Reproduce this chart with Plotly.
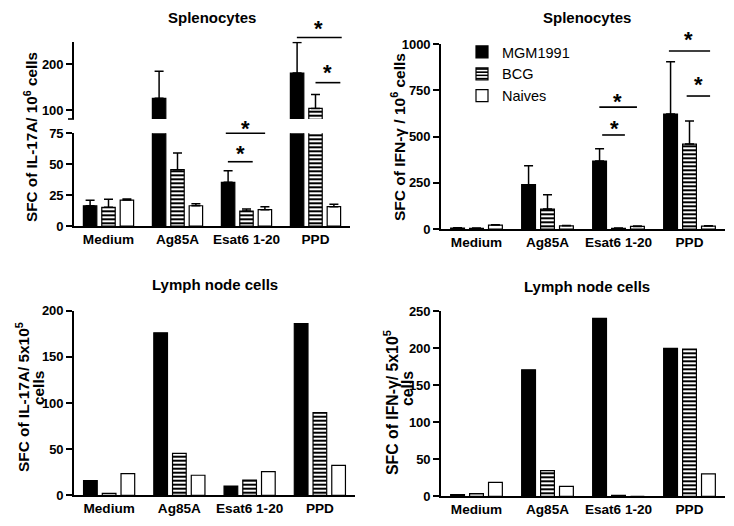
import plotly.graph_objects as go

OFF = 8                     # page body margin: figure starts 8 px from the window edge
W, H = 734 - 2 * OFF, 526 - 2 * OFF
FONT = "Arial, 'Liberation Sans', sans-serif"

categories = ["Medium", "Ag85A", "Esat6 1-20", "PPD"]
groups = ["MGM1991", "BCG", "Naives"]

# Splenocytes, IL-17A (SFC / 10^6 cells): mean and upper SD
spl_il17_mgm = [16.4, 126, 35.3, 181]
spl_il17_mgm_sd = [4.4, 59, 9.5, 66]
spl_il17_bcg = [15.1, 45.6, 12.1, 104]
spl_il17_bcg_sd = [6.5, 13.4, 1.6, 30]
spl_il17_naive = [21.0, 16.4, 13.2, 15.6]
spl_il17_naive_sd = [0.8, 1.6, 2.4, 1.9]

# Splenocytes, IFN-gamma (SFC / 10^6 cells)
spl_ifn_mgm = [5, 240, 368, 622]
spl_ifn_mgm_sd = [2, 102, 67, 283]
spl_ifn_bcg = [4, 108, 4, 460]
spl_ifn_bcg_sd = [1, 78, 1, 125]
spl_ifn_naive = [21, 17, 14, 16]
spl_ifn_naive_sd = [2, 2, 2, 2]

# Lymph node cells, IL-17A (SFC / 5x10^5 cells)
ln_il17_mgm = [16, 176, 10, 186]
ln_il17_bcg = [2, 45.5, 16.6, 89.5]
ln_il17_naive = [23.5, 21.7, 25.6, 32.5]

# Lymph node cells, IFN-gamma (SFC / 5x10^5 cells)
ln_ifn_mgm = [2.3, 171, 240.5, 200]
ln_ifn_bcg = [3.6, 34.7, 1.4, 199]
ln_ifn_naive = [18.9, 13.5, 0, 30.2]


def px_x(p):
    return (p - OFF) / W


def px_y(p):
    return 1 - (p - OFF) / H


def ydom(top_px, bottom_px):
    return [px_y(bottom_px), px_y(top_px)]


def bar_style(g):
    if g == "MGM1991":
        return dict(color="black", line=dict(color="black", width=1.2))
    if g == "BCG":
        return dict(color="white", line=dict(color="black", width=1.2),
                    pattern=dict(shape="-", fgcolor="black", bgcolor="white",
                                 size=4, solidity=0.5, fillmode="replace"))
    return dict(color="white", line=dict(color="black", width=1.2))


fig = go.Figure()


def add_panel(xa, ya, series, errs=None, showlegend=False):
    for i, g in enumerate(groups):
        kw = {}
        if errs is not None:
            kw["error_y"] = dict(type="data", symmetric=False, array=errs[i],
                                 arrayminus=[0] * len(errs[i]), color="black",
                                 thickness=1.5, width=4.5)
        fig.add_trace(go.Bar(x=categories, y=series[i], name=g, xaxis=xa, yaxis=ya,
                             marker=bar_style(g), showlegend=showlegend,
                             legendgroup=g, **kw))


il17_series = [spl_il17_mgm, spl_il17_bcg, spl_il17_naive]
il17_errs = [spl_il17_mgm_sd, spl_il17_bcg_sd, spl_il17_naive_sd]
add_panel("x", "y", il17_series, il17_errs)      # lower segment of broken axis
add_panel("x2", "y2", il17_series, il17_errs)    # upper segment
add_panel("x3", "y3", [spl_ifn_mgm, spl_ifn_bcg, spl_ifn_naive],
          [spl_ifn_mgm_sd, spl_ifn_bcg_sd, spl_ifn_naive_sd], showlegend=True)
add_panel("x4", "y4", [ln_il17_mgm, ln_il17_bcg, ln_il17_naive])
add_panel("x5", "y5", [ln_ifn_mgm, ln_ifn_bcg, ln_ifn_naive])

ytickfont = dict(family=FONT, size=13, color="black", weight="bold")
xtickfont = dict(family=FONT, size=13.6, color="black", weight="bold")
axbase = dict(showline=True, linecolor="black", linewidth=1.6, showgrid=False,
              zeroline=False, automargin=False)
xbase = dict(axbase, ticks="", range=[-0.5, 3.5], type="category", tickfont=xtickfont)
ybase = dict(axbase, ticks="outside", ticklen=6, tickwidth=1.6, tickcolor="black",
             tickfont=ytickfont)

TL_LOW = [0, 75]
TL_UP = [81, 249]
TR_R = [0, 1000]

DOM = {
    "x": [px_x(74), px_x(350)], "y": ydom(133.3, 226),
    "x2": [px_x(74), px_x(350)], "y2": ydom(41.7, 119),
    "x3": [px_x(441), px_x(725)], "y3": ydom(44.3, 229),
}

fig.update_layout(
    template="none",
    width=W, height=H, margin=dict(l=0, r=0, t=0, b=0, pad=0),
    paper_bgcolor="white", plot_bgcolor="white",
    font=dict(family=FONT, color="black"),
    barmode="group", bargap=0.2, bargroupgap=0.27,
    xaxis=dict(xbase, domain=DOM["x"], anchor="y"),
    yaxis=dict(ybase, domain=DOM["y"], anchor="x", range=TL_LOW, tickvals=[0, 25, 50, 75]),
    xaxis2=dict(xbase, domain=DOM["x2"], anchor="y2", matches="x", visible=False),
    yaxis2=dict(ybase, domain=DOM["y2"], anchor="x2", range=TL_UP, tickvals=[100, 200]),
    xaxis3=dict(xbase, domain=DOM["x3"], anchor="y3"),
    yaxis3=dict(ybase, domain=DOM["y3"], anchor="x3", range=TR_R, dtick=250),
    xaxis4=dict(xbase, domain=[px_x(74), px_x(355)], anchor="y4"),
    yaxis4=dict(ybase, domain=ydom(310.7, 495.3), anchor="x4", range=[0, 200], dtick=50),
    xaxis5=dict(xbase, domain=[px_x(441), px_x(725)], anchor="y5"),
    yaxis5=dict(ybase, domain=ydom(311.3, 496.3), anchor="x5", range=[0, 250], dtick=50),
    legend=dict(x=px_x(462), y=px_y(36), xanchor="left", yanchor="top",
                font=dict(family=FONT, size=14.5, color="black"),
                bgcolor="rgba(0,0,0,0)", tracegroupgap=0),
)

annotations = []
shapes = []

# break mark at the bottom of the upper segment of the broken axis
shapes.append(dict(type="line", xref="paper", yref="y2 domain", x0=px_x(68), x1=px_x(74),
                   y0=0, y1=0, line=dict(color="black", width=1.6)))

# titles
for text, xp, yp in [("Splenocytes", 212, 8), ("Splenocytes", 587, 8),
                     ("Lymph node cells", 215, 275), ("Lymph node cells", 587, 277)]:
    annotations.append(dict(text=text, x=px_x(xp), y=px_y(yp), xref="paper", yref="paper",
                            showarrow=False, xanchor="center", yanchor="top", borderpad=0,
                            font=dict(family=FONT, size=15, color="black", weight="bold")))

# y-axis titles (one annotation per text line)
for text, xp, yp, fs in [("SFC of IL-17A/ 10<sup>6</sup> cells", 30, 137, 15.3),
                         ("SFC of IFN-γ / 10<sup>6</sup> cells", 398, 137, 15.5),
                         ("SFC of IL-17A/ 5x10<sup>5</sup>", 22, 397, 15.4),
                         ("cells", 38, 388, 15.4),
                         ("SFC of IFN-γ/ 5x10<sup>5</sup>", 391, 403, 15.8),
                         ("cells", 407, 389, 15.8)]:
    annotations.append(dict(text=text, x=px_x(xp), y=px_y(yp), xref="paper", yref="paper",
                            showarrow=False, textangle=-90, xanchor="center", yanchor="middle",
                            font=dict(family=FONT, size=fs, color="black", weight="bold")))

# significance brackets: (x axis, y axis, y range, x0, x1, y line, x star, y star)
brackets = [
    ("x", "y", TL_LOW, 1.70, 2.27, 75, 1.98, 81.7),
    ("x", "y", TL_LOW, 1.73, 2.09, 52, 1.91, 60.7),
    ("x2", "y2", TL_UP, 2.73, 3.38, 258, 3.04, 285),
    ("x2", "y2", TL_UP, 3.00, 3.36, 160, 3.18, 188),
    ("x3", "y3", TR_R, 1.73, 2.26, 660, 1.98, 709),
    ("x3", "y3", TR_R, 1.77, 2.09, 509, 1.94, 563),
    ("x3", "y3", TR_R, 2.71, 3.29, 964, 2.98, 1040),
    ("x3", "y3", TR_R, 2.96, 3.29, 720, 3.13, 796),
]
for xa, ya, rng, x0, x1, yl, xs, ys in brackets:
    fl = (yl - rng[0]) / (rng[1] - rng[0])
    fs = (ys - rng[0]) / (rng[1] - rng[0])
    shapes.append(dict(type="line", xref=xa, yref=ya + " domain", x0=x0, x1=x1, y0=fl, y1=fl,
                       line=dict(color="black", width=1.6)))
    # star position converted to paper units through the axis domain
    dx, dy = DOM[xa], DOM[ya]
    sx = dx[0] + (xs + 0.5) / 4 * (dx[1] - dx[0])
    sy = dy[0] + fs * (dy[1] - dy[0])
    annotations.append(dict(text="*", xref="paper", yref="paper", x=sx, y=sy,
                            showarrow=False, xanchor="center", yanchor="middle", yshift=-3,
                            font=dict(family=FONT, size=22, color="black", weight="bold")))

fig.update_layout(annotations=annotations, shapes=shapes)
fig.write_html("out.html")
